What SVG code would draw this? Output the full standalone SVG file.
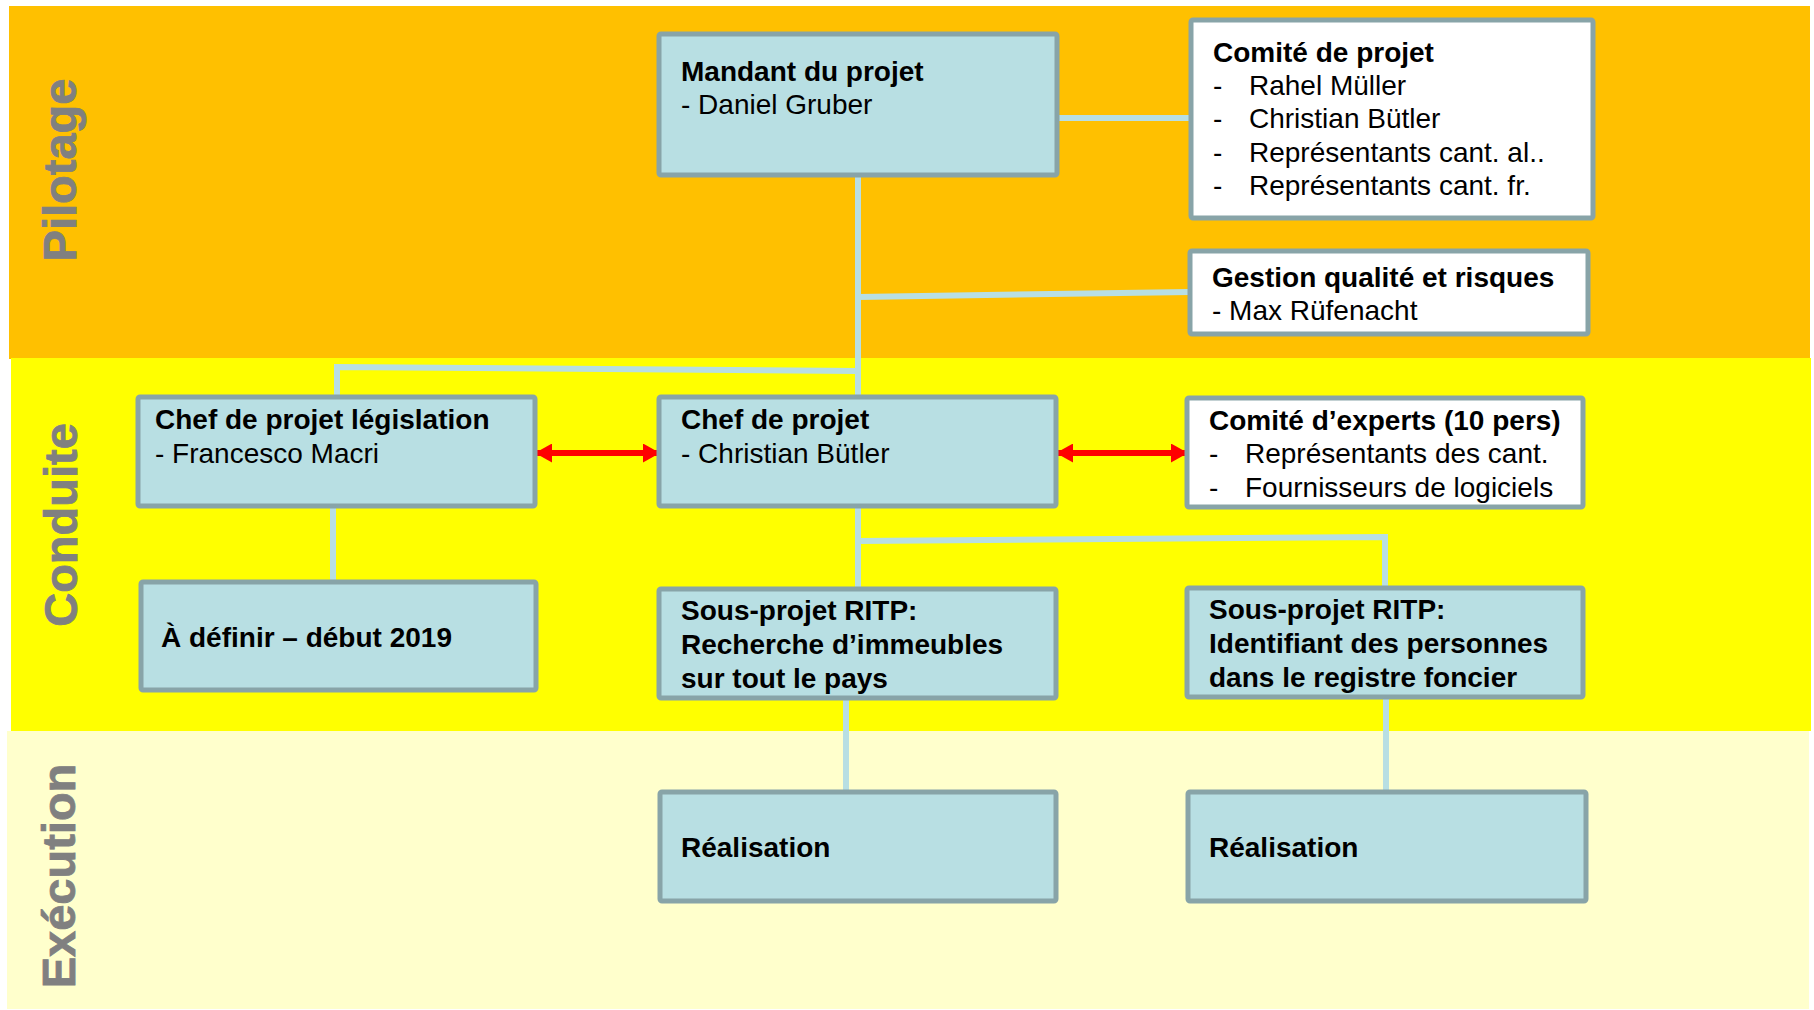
<svg xmlns="http://www.w3.org/2000/svg" width="1814" height="1010" viewBox="0 0 1814 1010">
<defs>
<style>
text{font-family:"Liberation Sans",Arial,sans-serif;font-size:28px;fill:#000}
.b{font-weight:bold}
.band{font-weight:bold;font-size:47px;fill:#808080;text-anchor:middle;stroke:#808080;stroke-width:0.8}
.box{fill:#B8DFE3;stroke:#88A4A8;stroke-width:5}
.wbox{fill:#FFFFFF;stroke:#88A4A8;stroke-width:5}
.con{fill:none;stroke:#B8DFE3;stroke-width:6}
.arr{fill:none;stroke:#FF0000;stroke-width:6;marker-start:url(#ah);marker-end:url(#ah)}
</style>
<marker id="ah" markerUnits="userSpaceOnUse" viewBox="0 0 17 19" refX="15" refY="9.5" markerWidth="17" markerHeight="19" orient="auto-start-reverse">
<path d="M0,0 L17,9.5 L0,19 Z" fill="#FF0000"/>
</marker>
</defs>

<g id="bands">
<rect x="9" y="6" width="1801" height="353" fill="#FFC000"/>
<rect x="11" y="358" width="1800" height="373" fill="#FFFF00"/>
<rect x="7" y="731" width="1802" height="278" fill="#FFFFCC"/>
<text class="band" transform="translate(76,170) rotate(-90)">Pilotage</text>
<text class="band" transform="translate(77,525) rotate(-90)">Conduite</text>
<text class="band" transform="translate(75,876) rotate(-90)">Exécution</text>
</g>

<g id="connectors">
<path class="con" d="M1057,118 L1190,118"/>
<path class="con" d="M858,175 L858,397"/>
<path class="con" d="M858,297 L1190,292"/>
<path class="con" d="M858,371 L337,367 L337,397"/>
<path class="con" d="M333,506 L333,582"/>
<path class="con" d="M858,506 L858,589"/>
<path class="con" d="M858,541 L1385,537 L1385,588"/>
<path class="con" d="M846,698 L846,792"/>
<path class="con" d="M1386,697 L1386,792"/>
<path class="arr" d="M537,453 L658,453"/>
<path class="arr" d="M1058,453 L1186,453"/>
</g>

<g id="mandant">
<rect class="box" x="659" y="34" width="398" height="141" rx="2"/>
<text class="b" x="681" y="81">Mandant du projet</text>
<text x="681" y="114">- Daniel Gruber</text>
</g>

<g id="comite-projet">
<rect class="wbox" x="1191" y="20" width="402" height="198" rx="2"/>
<text class="b" x="1213" y="62">Comité de projet</text>
<text y="95"><tspan x="1213">-</tspan><tspan x="1249">Rahel Müller</tspan></text>
<text y="128"><tspan x="1213">-</tspan><tspan x="1249">Christian Bütler</tspan></text>
<text y="162"><tspan x="1213">-</tspan><tspan x="1249">Représentants cant. al..</tspan></text>
<text y="195"><tspan x="1213">-</tspan><tspan x="1249">Représentants cant. fr.</tspan></text>
</g>

<g id="gestion">
<rect class="wbox" x="1190" y="251" width="398" height="83" rx="2"/>
<text class="b" x="1212" y="287">Gestion qualité et risques</text>
<text x="1212" y="320">- Max Rüfenacht</text>
</g>

<g id="chef-legislation">
<rect class="box" x="138" y="397" width="397" height="109" rx="2"/>
<text class="b" x="155" y="429">Chef de projet législation</text>
<text x="155" y="463">- Francesco Macri</text>
</g>

<g id="chef-projet">
<rect class="box" x="659" y="397" width="397" height="109" rx="2"/>
<text class="b" x="681" y="429">Chef de projet</text>
<text x="681" y="463">- Christian Bütler</text>
</g>

<g id="comite-experts">
<rect class="wbox" x="1187" y="398" width="396" height="109" rx="2"/>
<text class="b" x="1209" y="430">Comité d’experts (10 pers)</text>
<text y="463"><tspan x="1209">-</tspan><tspan x="1245">Représentants des cant.</tspan></text>
<text y="497"><tspan x="1209">-</tspan><tspan x="1245">Fournisseurs de logiciels</tspan></text>
</g>

<g id="a-definir">
<rect class="box" x="141" y="582" width="395" height="108" rx="2"/>
<text class="b" x="161" y="647">À définir – début 2019</text>
</g>

<g id="sous-projet-1">
<rect class="box" x="659" y="589" width="397" height="109" rx="2"/>
<text class="b" x="681" y="620">Sous-projet RITP:</text>
<text class="b" x="681" y="654">Recherche d’immeubles</text>
<text class="b" x="681" y="688">sur tout le pays</text>
</g>

<g id="sous-projet-2">
<rect class="box" x="1187" y="588" width="396" height="109" rx="2"/>
<text class="b" x="1209" y="619">Sous-projet RITP:</text>
<text class="b" x="1209" y="653">Identifiant des personnes</text>
<text class="b" x="1209" y="687">dans le registre foncier</text>
</g>

<g id="realisation-1">
<rect class="box" x="660" y="792" width="396" height="109" rx="2"/>
<text class="b" x="681" y="857">Réalisation</text>
</g>

<g id="realisation-2">
<rect class="box" x="1188" y="792" width="398" height="109" rx="2"/>
<text class="b" x="1209" y="857">Réalisation</text>
</g>
</svg>
